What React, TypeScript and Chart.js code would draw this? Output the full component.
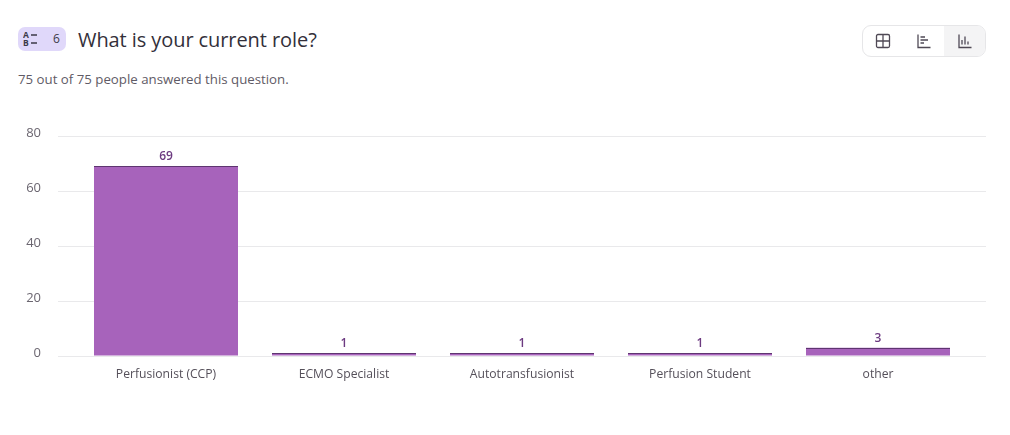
import React, { useEffect, useRef } from "react";
import { Chart, registerables } from "chart.js";

Chart.register(...registerables);

const categories = ["Perfusionist (CCP)", "ECMO Specialist", "Autotransfusionist", "Perfusion Student", "other"];
const responses = [69, 1, 1, 1, 3];
const yTicks = [0, 20, 40, 60, 80];
const FONT = '"Open Sans", sans-serif';

const wideGrid = {
  id: "wideGrid",
  beforeDatasetsDraw(chart: any) {
    const { ctx, scales, chartArea } = chart;
    ctx.save();
    ctx.strokeStyle = "#e9e9eb";
    ctx.lineWidth = 1;
    yTicks.forEach((t) => {
      const y = Math.round(scales.y.getPixelForValue(t)) + 0.5;
      ctx.beginPath();
      ctx.moveTo(chartArea.left - 19, y);
      ctx.lineTo(chartArea.right + 19, y);
      ctx.stroke();
    });
    ctx.restore();
  },
};

const valueLabels = {
  id: "valueLabels",
  afterDatasetsDraw(chart: any) {
    const { ctx } = chart;
    const meta = chart.getDatasetMeta(0);
    ctx.save();
    ctx.font = `600 12px ${FONT}`;
    ctx.textAlign = "center";
    ctx.textBaseline = "alphabetic";
    meta.data.forEach((bar: any, i: number) => {
      ctx.fillStyle = "#5e3570";
      ctx.fillRect(bar.x - bar.width / 2, Math.round(bar.y), bar.width, 1);
      ctx.fillStyle = "#6c3a80";
      ctx.fillText(String(responses[i]), bar.x, bar.y - 6);
    });
    ctx.restore();
  },
};

function Icon({ d, active }: { d: string; active?: boolean }) {
  return (
    <div style={{ width: 41, height: 30, display: "flex", alignItems: "center", justifyContent: "center", background: active ? "#f4f4f5" : "transparent" }}>
      <svg width="16" height="16" viewBox="0 0 16 16" fill="none" stroke="#4f4955" strokeWidth="1.3">
        <path d={d} />
      </svg>
    </div>
  );
}

export default function App() {
  const ref = useRef<HTMLCanvasElement>(null);

  useEffect(() => {
    const chart = new Chart(ref.current!, {
      type: "bar",
      data: {
        labels: categories,
        datasets: [
          {
            data: responses,
            backgroundColor: "#a763bb",
            borderWidth: 0,
            barPercentage: 0.809,
            categoryPercentage: 1,
          },
        ],
      },
      options: {
        animation: false,
        responsive: false,
        layout: { padding: { top: 28, right: 43, bottom: 0, left: 0 } },
        plugins: { legend: { display: false }, tooltip: { enabled: false } },
        scales: {
          x: {
            grid: { display: false },
            border: { display: false },
            afterFit: (s: any) => {
              s.height = 44;
            },
            ticks: { color: "#55505a", font: { family: FONT, size: 12.15 }, padding: 3, maxRotation: 0 },
          },
          y: {
            min: 0,
            max: 80,
            grid: { drawOnChartArea: false, drawTicks: true, tickLength: 36, tickColor: "transparent" },
            border: { display: false },
            afterFit: (s: any) => {
              s.width = 77;
            },
            ticks: { stepSize: 20, color: "#6b6670", font: { family: FONT, size: 13 }, padding: 0, labelOffset: -3 },
          },
        },
      },
      plugins: [wideGrid, valueLabels],
    } as any);
    return () => chart.destroy();
  }, []);

  return (
    <div style={{ position: "absolute", left: 0, top: 0, width: 1010, height: 435, background: "#fff", overflow: "hidden", fontFamily: FONT }}>
      <div style={{ position: "absolute", left: 18, top: 27, width: 48, height: 24, borderRadius: 7, background: "#e0d8fa" }}>
        <svg style={{ position: "absolute", left: 5, top: 4 }} width="18" height="16" viewBox="0 0 18 16" fill="none">
          <text x="0" y="7" fontSize="8.5" fontWeight="700" fill="#3c3a48" fontFamily={FONT}>A</text>
          <text x="0" y="15" fontSize="8.5" fontWeight="700" fill="#3c3a48" fontFamily={FONT}>B</text>
          <path d="M8 4H14M8 12H14" stroke="#3c3a48" strokeWidth="1.4" />
        </svg>
        <span style={{ position: "absolute", left: 35, top: 3, fontSize: 12, color: "#3c3a48" }}>6</span>
      </div>
      <div style={{ position: "absolute", left: 78, top: 25, fontSize: 20, lineHeight: "30px", letterSpacing: -0.08, color: "#33303a", whiteSpace: "nowrap" }}>What is your current role?</div>
      <div style={{ position: "absolute", left: 18, top: 70, fontSize: 13.25, lineHeight: "18px", color: "#5f5b66", whiteSpace: "nowrap" }}>75 out of 75 people answered this question.</div>
      <div style={{ position: "absolute", left: 862, top: 25, width: 122, height: 30, border: "1px solid #e6e6e8", borderRadius: 9, display: "flex", overflow: "hidden" }}>
        <Icon d="M1.5 3a1.5 1.5 0 0 1 1.5-1.5h10A1.5 1.5 0 0 1 14.5 3v10a1.5 1.5 0 0 1-1.5 1.5H3A1.5 1.5 0 0 1 1.5 13zM1.5 8H14.5M8 1.5V14.5" />
        <Icon d="M2 1.5V14.5H14.5M4.5 4H9M4.5 7H12M4.5 10H8" />
        <Icon active d="M2 1.5V14.5H14.5M5 11.5V7M8 11.5V3.5M11 11.5V8.5" />
      </div>
      <canvas ref={ref} width={1010} height={292} style={{ position: "absolute", left: 0, top: 108, display: "block" }} />
    </div>
  );
}
